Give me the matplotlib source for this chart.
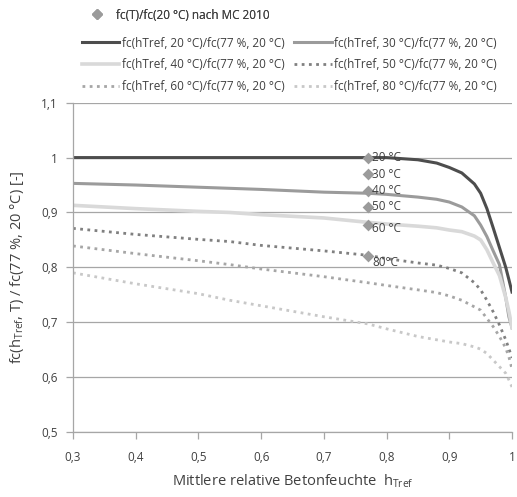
import matplotlib
matplotlib.use("Agg")
import matplotlib.pyplot as plt
from matplotlib.lines import Line2D

plt.rcParams['font.family'] = ['Open Sans', 'DejaVu Sans']

h = [0.3, 0.4, 0.5, 0.55, 0.6, 0.7, 0.77, 0.8, 0.85, 0.88, 0.9, 0.92, 0.94, 0.95, 0.96, 0.97, 0.98, 0.99, 0.995, 1.0]
fc20 = [1.0, 1.0, 1.0, 1.0, 1.0, 1.0, 1.0, 1.0, 0.996, 0.99, 0.982, 0.972, 0.952, 0.935, 0.907, 0.872, 0.836, 0.80, 0.778, 0.755]
fc30 = [0.953, 0.95, 0.946, 0.944, 0.942, 0.937, 0.935, 0.933, 0.928, 0.924, 0.919, 0.91, 0.894, 0.877, 0.856, 0.83, 0.805, 0.745, 0.71, 0.69]
fc40 = [0.913, 0.907, 0.902, 0.900, 0.896, 0.89, 0.882, 0.879, 0.875, 0.872, 0.868, 0.865, 0.857, 0.85, 0.832, 0.808, 0.785, 0.745, 0.72, 0.69]
fc50 = [0.871, 0.86, 0.851, 0.847, 0.840, 0.830, 0.822, 0.816, 0.808, 0.804, 0.798, 0.79, 0.772, 0.759, 0.74, 0.719, 0.695, 0.668, 0.652, 0.635]
fc60 = [0.839, 0.825, 0.812, 0.805, 0.797, 0.783, 0.772, 0.767, 0.759, 0.754, 0.748, 0.74, 0.728, 0.722, 0.707, 0.692, 0.674, 0.653, 0.637, 0.615]
fc80 = [0.79, 0.77, 0.752, 0.740, 0.73, 0.71, 0.697, 0.688, 0.674, 0.668, 0.664, 0.661, 0.655, 0.651, 0.643, 0.631, 0.619, 0.607, 0.595, 0.582]

mc_h = [0.77, 0.77, 0.77, 0.77, 0.77, 0.77]
mc_fc = [1.0, 0.97, 0.94, 0.91, 0.878, 0.82]
mc_labels = ["20 °C", "30 °C", "40 °C", "50 °C", "60 °C", "80°C"]

series_labels = ["fc(hTref, 20 °C)/fc(77 %, 20 °C)", "fc(hTref, 30 °C)/fc(77 %, 20 °C)",
                 "fc(hTref, 40 °C)/fc(77 %, 20 °C)", "fc(hTref, 50 °C)/fc(77 %, 20 °C)",
                 "fc(hTref, 60 °C)/fc(77 %, 20 °C)", "fc(hTref, 80 °C)/fc(77 %, 20 °C)"]
marker_label = "fc(T)/fc(20 °C) nach MC 2010"

xticks = [0.3, 0.4, 0.5, 0.6, 0.7, 0.8, 0.9, 1.0]
xticklabels = ["0,3", "0,4", "0,5", "0,6", "0,7", "0,8", "0,9", "1"]
yticks = [0.5, 0.6, 0.7, 0.8, 0.9, 1.0, 1.1]
yticklabels = ["0,5", "0,6", "0,7", "0,8", "0,9", "1", "1,1"]

fig = plt.figure(figsize=(5.17, 4.97), dpi=100)
W, H = 517, 497
ax = fig.add_axes([73 / W, 1 - 432 / H, (512 - 73) / W, (432 - 102.7) / H])

grid_c = '#a6a6a6'
for y in yticks:
    ax.axhline(y, color=grid_c, lw=0.9, zorder=0)

styles = [
    dict(color='#4d4d4d', lw=2.2, ls='-'),
    dict(color='#9b9b9b', lw=2.2, ls='-'),
    dict(color='#d9d9d9', lw=2.6, ls='-'),
    dict(color='#808080', lw=2.0, ls=(0, (1, 1.6))),
    dict(color='#a6a6a6', lw=2.0, ls=(0, (1, 1.6))),
    dict(color='#c8c8c8', lw=2.0, ls=(0, (1, 1.6))),
]
series = [fc20, fc30, fc40, fc50, fc60, fc80]
lines = []
for s, st, lab in zip(series, styles, series_labels):
    ln, = ax.plot(h, s, label=lab, zorder=2, solid_joinstyle='round', **st)
    lines.append(ln)

mk = ax.scatter(mc_h, mc_fc, marker='D', s=36, color='#9b9b9b', zorder=3, label=marker_label, linewidths=0)
label_off = [0, 0, 0, 0, -0.008, -0.012]
for x, y, t, o in zip(mc_h, mc_fc, mc_labels, label_off):
    ax.text(x + 0.007, y + o, t, fontsize=8.5, color='#404040', va='center', ha='left', zorder=4)

ax.set_xlim(0.3, 1.0)
ax.set_ylim(0.5, 1.1)
ax.set_xticks(xticks)
ax.set_xticklabels(xticklabels)
ax.set_yticks(yticks)
ax.set_yticklabels(yticklabels)
ax.tick_params(axis='both', labelsize=8.5, colors='#404040', color=grid_c, length=5, direction='out', width=0.9)
ax.tick_params(axis='x', pad=9)
ax.tick_params(axis='y', pad=6)
for sp in ['top', 'right']:
    ax.spines[sp].set_visible(False)
for sp in ['left', 'bottom']:
    ax.spines[sp].set_color(grid_c)
    ax.spines[sp].set_linewidth(0.9)

ax.set_xlabel(r"Mittlere relative Betonfeuchte  h$_{\mathregular{Tref}}$", fontsize=10.5, color='#404040', labelpad=6)
ax.set_ylabel(r"fc(h$_{\mathregular{Tref}}$, T) / fc(77 %, 20 °C) [-]", fontsize=10.5, color='#404040', labelpad=11)

leg1 = fig.legend(handles=[Line2D([], [], marker='D', color='#9b9b9b', ls='none', markersize=5.5)],
                  labels=[marker_label], loc='upper left', bbox_to_anchor=(75 / W, 1 + 2 / H),
                  frameon=False, fontsize=8.5, handlelength=2.0, handletextpad=0.6, labelcolor='#404040')
order = [0, 2, 4, 1, 3, 5]
leg2 = fig.legend(handles=[lines[i] for i in order], labels=[series_labels[i] for i in order],
                  loc='upper left', bbox_to_anchor=(71 / W, 1 - 26 / H), ncol=2, frameon=False,
                  fontsize=8.5, handlelength=3.2, handletextpad=0.2, columnspacing=0.8,
                  labelspacing=0.75, labelcolor='#404040')
fig.add_artist(leg1)

fig.savefig("out.png", dpi=100)
